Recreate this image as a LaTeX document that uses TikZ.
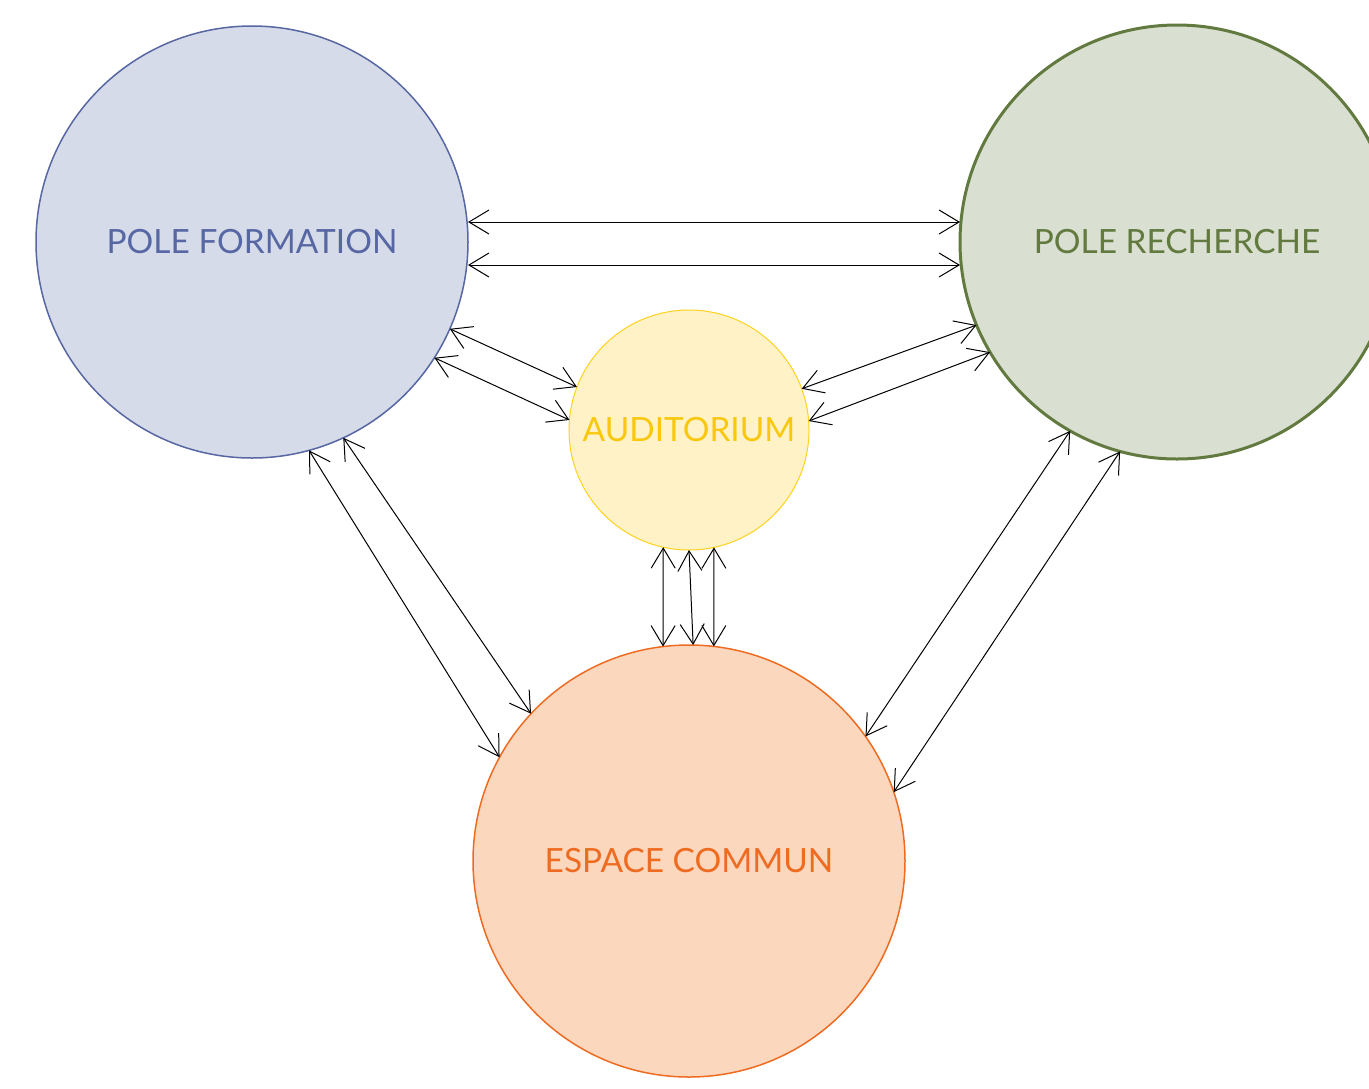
\documentclass[tikz,border=0pt]{standalone}
\usepackage{fontspec}
\setmainfont{Lato}
\usetikzlibrary{arrows.meta,calc}
\definecolor{formblau}{HTML}{5767A3}
\definecolor{formhell}{HTML}{D5DBE8}
\definecolor{forschgruen}{HTML}{62793F}
\definecolor{forschhell}{HTML}{D9DFD1}
\definecolor{audigelb}{HTML}{F9C80E}
\definecolor{audirand}{HTML}{FFD21F}
\definecolor{audihell}{HTML}{FFF2C7}
\definecolor{raumorange}{HTML}{EE6B22}
\definecolor{raumhell}{HTML}{FBD7BD}

\begin{document}
\begin{tikzpicture}[x=0.5pt, y=-0.5pt,
        kreis/.style={circle, inner sep=0pt, outer sep=0pt, font=\fontsize{16.7}{16.7}\selectfont},
        pfeil/.style={{Straight Barb[length=10pt,width=12pt]}-{Straight Barb[length=10pt,width=12pt]}, line width=0.5pt}]
        \useasboundingbox (0,0) rectangle (1369,1088);

        % Kreise
        \node[kreis, minimum size=216pt, draw=formblau, fill=formhell, text=formblau, line width=0.75pt]
            (formation) at (252,242) {POLE FORMATION};
        \node[kreis, minimum size=217pt, draw=forschgruen, fill=forschhell, text=forschgruen, line width=1.5pt]
            (recherche) at (1177,242) {POLE RECHERCHE};
        \node[kreis, minimum size=120pt, draw=audirand, fill=audihell, text=audigelb, line width=0.5pt]
            (auditorium) at (689,430) {AUDITORIUM};
        \node[kreis, minimum size=216pt, draw=raumorange, fill=raumhell, text=raumorange, line width=0.75pt]
            (espace) at (689,861) {ESPACE COMMUN};

        % Pfeile oben (waagerecht)
        \draw[pfeil] ([yshift=10pt]formation.east) -- ([yshift=10pt]recherche.west);
        \draw[pfeil] ([yshift=-11.5pt]formation.east) -- ([yshift=-11.5pt]recherche.west);

        % Pfeile zum Auditorium
        \draw[pfeil] ($(formation)+(-23.7:108pt)$) -- ($(auditorium)+(159:60pt)$);
        \draw[pfeil] ($(formation)+(-32.4:108pt)$) -- ($(auditorium)+(175.2:60pt)$);
        \draw[pfeil] ($(recherche)+(-157.5:108.5pt)$) -- ($(auditorium)+(20.1:60pt)$);
        \draw[pfeil] ($(recherche)+(-149.5:108.5pt)$) -- ($(auditorium)+(4.3:60pt)$);

        % Auditorium -- Espace commun
        \draw[pfeil] ($(auditorium)+(-102.4:60pt)$) -- ($(espace)+(96.9:108pt)$);
        \draw[pfeil] (auditorium.south) -- ($(espace)+(88.9:108pt)$);
        \draw[pfeil] ($(auditorium)+(-78:60pt)$) -- ($(espace)+(83.4:108pt)$);

        % Pfeile unten
        \draw[pfeil] ($(formation)+(-74.7:108pt)$) -- ($(espace)+(151.3:108pt)$);
        \draw[pfeil] ($(formation)+(-65:108pt)$) -- ($(espace)+(137:108pt)$);
        \draw[pfeil] ($(recherche)+(-119.5:108.5pt)$) -- ($(espace)+(35.2:108pt)$);
        \draw[pfeil] ($(recherche)+(-105.2:108.5pt)$) -- ($(espace)+(18.6:108pt)$);
\end{tikzpicture}
\end{document}
